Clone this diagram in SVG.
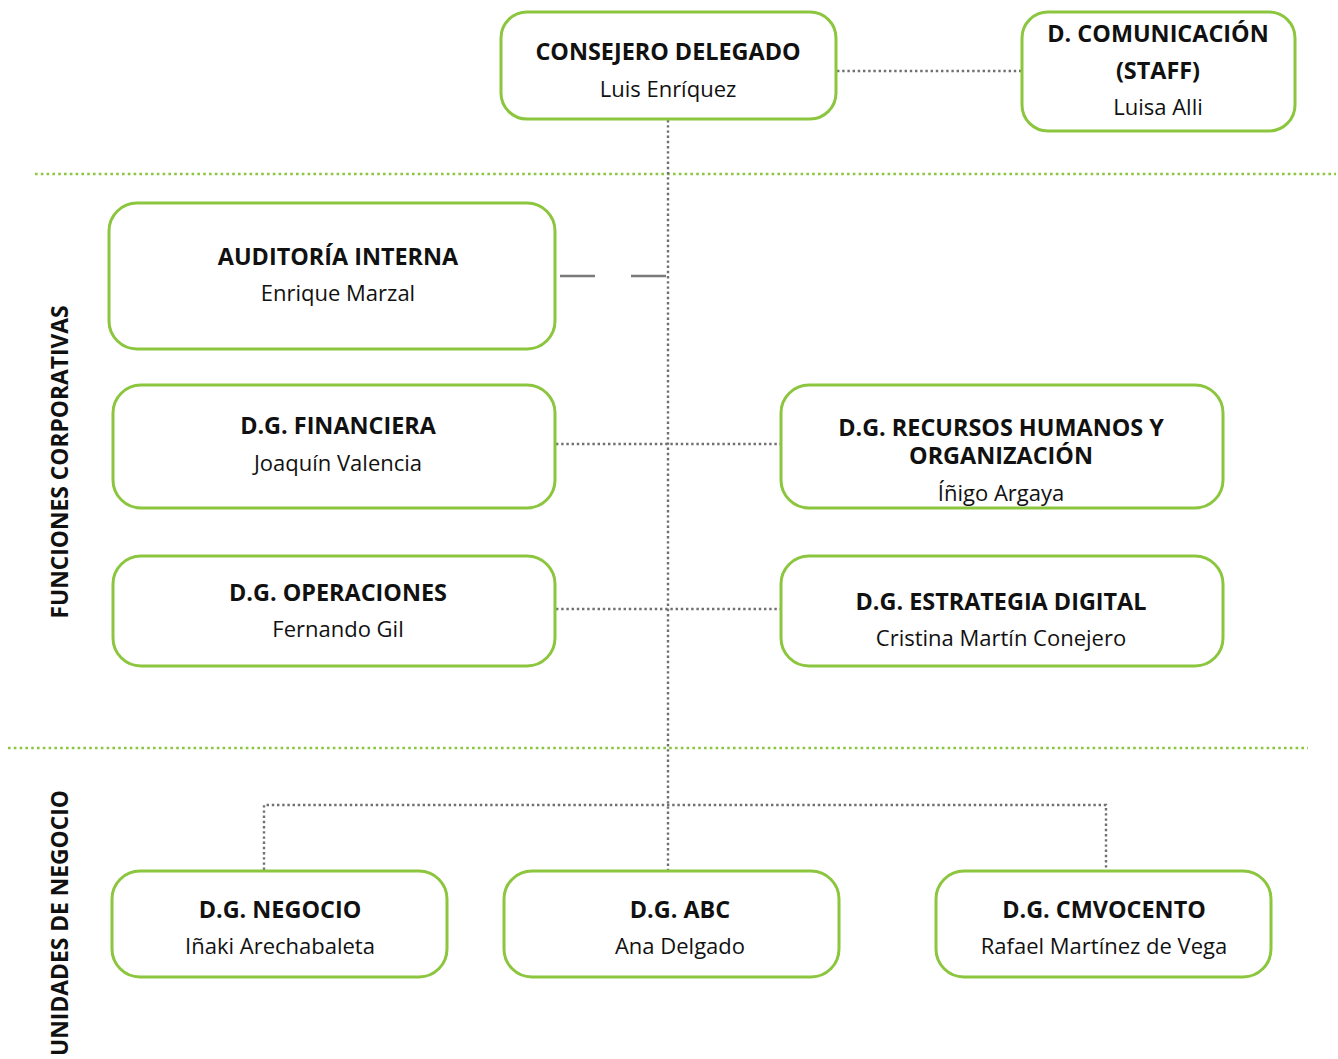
<svg xmlns="http://www.w3.org/2000/svg" width="1338" height="1059" viewBox="0 0 1338 1059">
<style>
.box{fill:#fff;stroke:#8cc63f;stroke-width:3}
.t{font-family:"Open Sans","Noto Sans","Liberation Sans",sans-serif;font-size:22px;text-anchor:middle;fill:#111}
.b{font-weight:bold;font-size:23.4px}
.dot{fill:none;stroke:#707070;stroke-width:2.4;stroke-dasharray:2.4 2.8}
.gdot{fill:none;stroke:#8cc63f;stroke-width:2.6;stroke-dasharray:2.6 3.2}
.dash{fill:none;stroke:#7a7a7a;stroke-width:2.5}
.side{font-family:"Open Sans","Noto Sans","Liberation Sans",sans-serif;font-size:22.8px;font-weight:bold;text-anchor:middle;fill:#111}
</style>
<rect width="1338" height="1059" fill="#fff"/>
<g id="separators">
<line class="gdot" x1="35" y1="174" x2="1336" y2="174"/>
<line class="gdot" x1="8" y1="748" x2="1308" y2="748"/>
</g>
<g id="connectors">
<line class="dot" x1="837" y1="71" x2="1022" y2="71"/>
<line class="dot" x1="668" y1="120" x2="668" y2="870"/>
<line class="dash" x1="560" y1="276" x2="595" y2="276"/>
<line class="dash" x1="631" y1="276" x2="666" y2="276"/>
<line class="dot" x1="556" y1="444" x2="781" y2="444"/>
<line class="dot" x1="556" y1="609" x2="781" y2="609"/>
<polyline class="dot" points="264,870 264,805 1106,805 1106,870"/>
</g>
<g id="labels">
<text class="side" transform="translate(68,462) rotate(-90)">FUNCIONES CORPORATIVAS</text>
<text class="side" transform="translate(68,923) rotate(-90)">UNIDADES DE NEGOCIO</text>
</g>
<g id="consejero">
<rect class="box" x="501" y="12" width="335" height="107" rx="26"/>
<text class="t b" x="668" y="60">CONSEJERO DELEGADO</text>
<text class="t" x="668" y="97">Luis Enríquez</text>
</g>
<g id="comunicacion">
<rect class="box" x="1022" y="12" width="273" height="119" rx="26"/>
<text class="t b" x="1158" y="42">D. COMUNICACIÓN</text>
<text class="t b" x="1158" y="79">(STAFF)</text>
<text class="t" x="1158" y="115">Luisa Alli</text>
</g>
<g id="auditoria">
<rect class="box" x="109" y="203" width="446" height="146" rx="28"/>
<text class="t b" x="338" y="265">AUDITORÍA INTERNA</text>
<text class="t" x="338" y="301">Enrique Marzal</text>
</g>
<g id="financiera">
<rect class="box" x="113" y="385" width="442" height="123" rx="28"/>
<text class="t b" x="338" y="434">D.G. FINANCIERA</text>
<text class="t" x="338" y="471">Joaquín Valencia</text>
</g>
<g id="rrhh">
<rect class="box" x="781" y="385" width="442" height="123" rx="28"/>
<text class="t b" x="1001" y="436">D.G. RECURSOS HUMANOS Y</text>
<text class="t b" x="1001" y="464">ORGANIZACIÓN</text>
<text class="t" x="1001" y="501">Íñigo Argaya</text>
</g>
<g id="operaciones">
<rect class="box" x="113" y="556" width="442" height="110" rx="28"/>
<text class="t b" x="338" y="601">D.G. OPERACIONES</text>
<text class="t" x="338" y="637">Fernando Gil</text>
</g>
<g id="estrategia">
<rect class="box" x="781" y="556" width="442" height="110" rx="28"/>
<text class="t b" x="1001" y="610">D.G. ESTRATEGIA DIGITAL</text>
<text class="t" x="1001" y="646">Cristina Martín Conejero</text>
</g>
<g id="negocio">
<rect class="box" x="112" y="871" width="335" height="106" rx="28"/>
<text class="t b" x="280" y="918">D.G. NEGOCIO</text>
<text class="t" x="280" y="954">Iñaki Arechabaleta</text>
</g>
<g id="abc">
<rect class="box" x="504" y="871" width="335" height="106" rx="28"/>
<text class="t b" x="680" y="918">D.G. ABC</text>
<text class="t" x="680" y="954">Ana Delgado</text>
</g>
<g id="cmvocento">
<rect class="box" x="936" y="871" width="335" height="106" rx="28"/>
<text class="t b" x="1104" y="918">D.G. CMVOCENTO</text>
<text class="t" x="1104" y="954">Rafael Martínez de Vega</text>
</g>
</svg>
